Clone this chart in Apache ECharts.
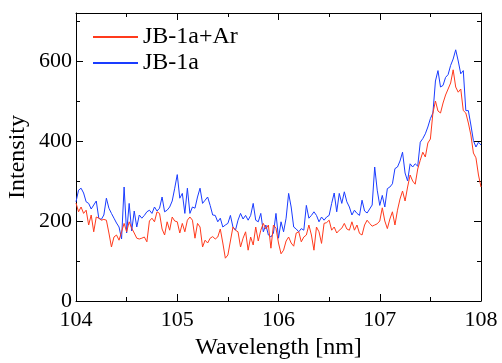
<!DOCTYPE html>
<html><head><meta charset="utf-8">
<script src="https://cdn.jsdelivr.net/npm/echarts@6/dist/echarts.min.js"></script>
<style>html,body{margin:0;padding:0;background:#fff}#c{width:502px;height:363px}</style>
</head><body><div id="c"></div>
<script>
// sampling grid of the spectra (nm)
const WL_START = 104;
const WL_STEP = 0.025;
const seriesNames = ['JB-1a+Ar', 'JB-1a'];
const xTicks = [104, 105, 106, 107, 108];
const yTicks = [0, 200, 400, 600];

const jb1aAr = [
245,223,235,219,227,190,215,173,210,207,202,204,202,170,135,160,165,152,173,194,
173,198,182,170,157,155,157,160,148,200,207,198,223,219,180,165,198,177,210,200,
198,170,194,173,202,210,202,157,194,185,135,152,145,157,161,155,160,180,145,107,
115,150,185,177,173,135,157,173,127,160,140,185,150,177,194,180,190,132,190,182,
145,118,127,150,160,145,137,170,173,148,160,165,190,165,127,185,173,144,194,196,
202,177,185,170,177,182,194,180,177,198,177,190,169,165,190,202,194,187,190,193,
200,233,200,181,205,223,190,227,255,275,250,285,315,300,292,330,352,372,360,395,
405,470,500,475,470,495,515,530,545,578,535,522,530,476,470,445,415,370,358,315,
285
];
const jb1a = [
248,277,282,270,248,244,230,240,250,207,204,215,257,232,219,207,195,185,155,285,
170,244,175,225,185,215,207,214,223,227,219,235,225,232,260,223,227,235,250,282,
316,257,269,219,282,219,235,232,260,282,244,252,260,239,215,214,198,207,185,190,
194,214,185,177,202,219,205,214,202,214,244,202,198,219,173,190,165,160,170,219,
157,198,173,207,269,235,185,180,173,181,177,239,207,214,223,214,198,210,202,210,
214,244,270,223,269,244,273,248,235,215,227,219,214,252,225,220,230,240,335,277,
239,264,235,281,285,293,331,335,350,372,320,300,343,335,343,337,397,406,418,435,
456,470,550,576,535,539,559,566,589,605,628,600,568,576,476,476,440,401,385,397,
390
];

const FONT = 'Liberation Serif';
const toPairs = arr => arr.map((v, i) => [+(WL_START + i * WL_STEP).toFixed(3), v]);

const chart = echarts.init(document.getElementById('c'), null, {renderer: 'canvas'});
const black = '#000';
const xCommon = {
  type: 'value', min: xTicks[0], max: xTicks[xTicks.length - 1], interval: 1,
  axisLine: {show: true, onZero: false, lineStyle: {color: black, width: 1}},
  axisTick: {show: true, inside: true, length: 7, lineStyle: {color: black, width: 1}},
  minorTick: {show: true, splitNumber: 2, length: 4, lineStyle: {color: black, width: 1}},
  splitLine: {show: false}
};
const yCommon = {
  type: 'value', min: 0, max: 720,
  axisLine: {show: true, onZero: false, lineStyle: {color: black, width: 1}},
  splitLine: {show: false}
};
chart.setOption({
  animation: false,
  backgroundColor: '#fff',
  grid: {left: 76, right: 21, top: 13, bottom: 62, containLabel: false, outerBoundsMode: 'none'},
  legend: {
    orient: 'vertical', left: 88, top: 20, itemWidth: 45, itemHeight: 2, itemGap: 2,
    icon: 'rect', data: seriesNames,
    textStyle: {fontFamily: FONT, fontSize: 24, color: black}
  },
  xAxis: [
    Object.assign({}, xCommon, {
      position: 'bottom',
      axisLabel: {show: true, color: black, fontFamily: FONT, fontSize: 22, margin: 8,
        formatter: v => xTicks.includes(v) ? String(v) : ''},
      name: 'Wavelength [nm]', nameLocation: 'middle', nameGap: 35, nameMoveOverlap: false,
      nameTextStyle: {fontFamily: FONT, fontSize: 24, color: black}
    }),
    Object.assign({}, xCommon, {position: 'top', axisLabel: {show: false}})
  ],
  yAxis: [
    Object.assign({}, yCommon, {
      position: 'left', interval: 200,
      axisTick: {show: true, inside: true, length: 7, lineStyle: {color: black}},
      axisLabel: {show: true, color: black, fontFamily: FONT, fontSize: 22, margin: 4,
        formatter: v => yTicks.includes(v) ? String(v) : ''},
      name: 'Intensity', nameLocation: 'middle', nameGap: 46, nameRotate: 90, nameMoveOverlap: false,
      nameTextStyle: {fontFamily: FONT, fontSize: 24, color: black}
    }),
    Object.assign({}, yCommon, {
      position: 'left', interval: 100, axisLine: {show: false},
      axisTick: {show: true, inside: true, length: 4, lineStyle: {color: black}},
      axisLabel: {show: false}
    }),
    Object.assign({}, yCommon, {
      position: 'right', interval: 200,
      axisTick: {show: true, inside: true, length: 7, lineStyle: {color: black}},
      axisLabel: {show: false}
    }),
    Object.assign({}, yCommon, {
      position: 'right', interval: 100, axisLine: {show: false},
      axisTick: {show: true, inside: true, length: 4, lineStyle: {color: black}},
      axisLabel: {show: false}
    })
  ],
  series: [
    {name: seriesNames[0], type: 'line', xAxisIndex: 0, yAxisIndex: 0, data: toPairs(jb1aAr),
      showSymbol: false, symbol: 'none', color: '#ff3a1c', lineStyle: {width: 1, color: '#ff3a1c'}, z: 3},
    {name: seriesNames[1], type: 'line', xAxisIndex: 0, yAxisIndex: 0, data: toPairs(jb1a),
      showSymbol: false, symbol: 'none', color: '#1a3cff', lineStyle: {width: 1, color: '#1a3cff'}, z: 2}
  ]
});
</script>
</body></html>
